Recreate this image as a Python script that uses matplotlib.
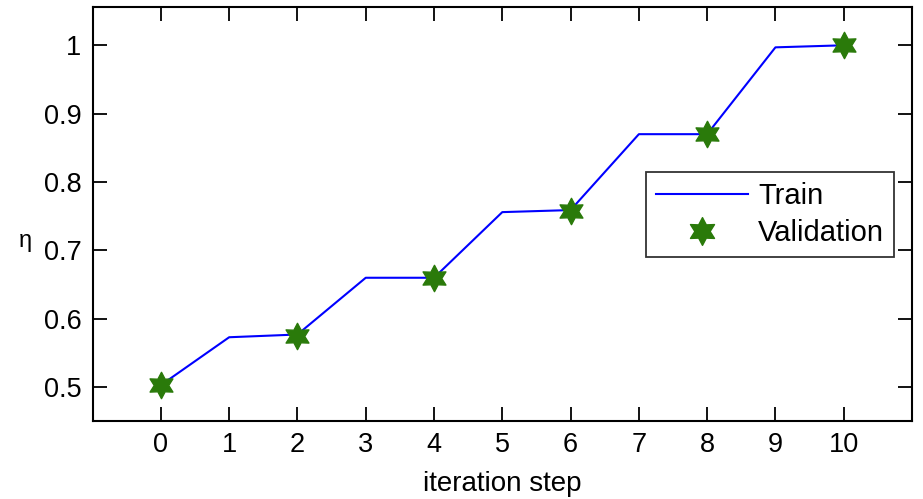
import numpy as np
import matplotlib
matplotlib.use("Agg")
import matplotlib.pyplot as plt
from matplotlib.path import Path

steps = [0, 1, 2, 3, 4, 5, 6, 7, 8, 9, 10]
train = [0.503, 0.573, 0.577, 0.660, 0.660, 0.756, 0.759, 0.870, 0.870, 0.997, 1.000]
val_steps = [0, 2, 4, 6, 8, 10]
validation = [0.503, 0.575, 0.660, 0.758, 0.870, 1.000]
xticks = [0, 1, 2, 3, 4, 5, 6, 7, 8, 9, 10]
yticks = [0.5, 0.6, 0.7, 0.8, 0.9, 1.0]
yticklabels = ["0.5", "0.6", "0.7", "0.8", "0.9", "1"]

plt.rcParams['font.family'] = ['Liberation Sans', 'DejaVu Sans']

# hexagram marker
ang = np.deg2rad(90 + np.arange(12) * 30)
rad = np.where(np.arange(12) % 2 == 0, 1.0, 0.55)
verts = np.column_stack([rad * np.cos(ang), rad * np.sin(ang)])
verts = np.vstack([verts, verts[:1]])
hexagram = Path(verts, closed=True)

fig = plt.figure(figsize=(9.23, 4.99), dpi=100)
ax = fig.add_axes([92.6 / 923, 1 - 421 / 499, (912 - 92.6) / 923, (421 - 7) / 499])

ax.plot(steps, train, color='#0000ff', lw=1.5, label='Train')
ax.plot(val_steps, validation, linestyle='none', marker=hexagram, markersize=19,
        color='#2a7a0a', markeredgecolor='#2a7a0a', label='Validation')

ax.set_xlim(-1, 11)
ax.set_ylim(0.4505, 1.056)
ax.set_xticks(xticks)
ax.set_yticks(yticks)
ax.set_yticklabels(yticklabels)
ax.tick_params(direction='in', length=10, width=1.3, top=True, right=True,
               labelsize=19.5, pad=8, colors='black')
for s in ax.spines.values():
    s.set_linewidth(1.5)

ax.set_xlabel('iteration step', fontsize=20, labelpad=9.5)
fig.text(25 / 923, 1 - 241 / 499, 'η', fontsize=17, ha='center', va='center')

leg = ax.legend(loc='upper left', bbox_to_anchor=((645.7 - 92.6) / (912 - 92.6), 1 - (172 - 7) / 414),
                fontsize=21, frameon=True, fancybox=False, edgecolor='black',
                handlelength=3.15, handletextpad=0.35, borderpad=0.35, labelspacing=0.3,
                borderaxespad=0)
leg.get_frame().set_linewidth(1.3)
leg.legend_handles[1].set_markersize(20)

fig.savefig('out.png', dpi=100)
